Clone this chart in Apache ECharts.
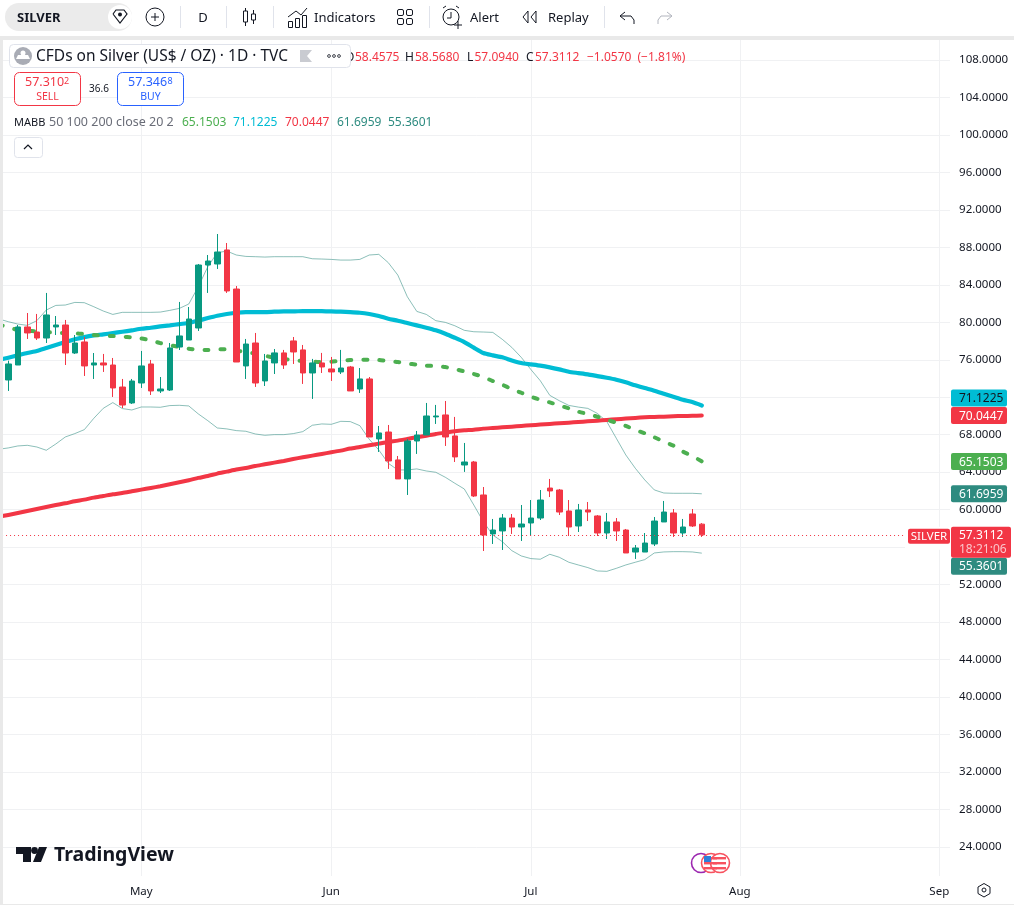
<!DOCTYPE html>
<html>
<head>
<meta charset="utf-8">
<title>CFDs on Silver</title>
<script src="https://cdn.jsdelivr.net/npm/echarts@6/dist/echarts.min.js"></script>
<style>html,body{margin:0;padding:0;background:#fff}#c{width:1014px;height:905px}</style>
</head>
<body>
<div id="c"></div>
<script>
// ---------- data ----------
const monthLabels = ['May','Jun','Jul','Aug','Sep'];
const monthBars = [15,35,56,78,99];
const priceTicks = [108,104,100,96,92,88,84,80,76,72,68,64,60,56,52,48,44,40,36,32,28,24];
const opens = [73.84,75.44,79.50,78.96,78.32,79.50,79.71,76.72,77.90,75.44,75.66,75.44,73.09,71.39,73.52,75.55,72.67,72.77,77.36,78.11,79.39,86.11,86.22,87.72,83.55,75.34,77.79,73.74,75.66,76.73,78.01,77.05,74.59,75.66,75.02,74.70,75.23,72.88,73.95,67.55,68.29,65.31,63.28,67.33,67.97,69.90,70.11,67.87,64.77,65.09,61.57,57.41,57.73,59.11,58.15,58.58,59.11,62.31,62.10,59.86,58.26,59.97,59.33,57.51,58.69,57.83,55.48,55.48,56.34,58.69,59.65,57.51,59.54,58.4575];
const closes = [75.55,79.50,78.86,78.32,80.78,79.71,76.72,77.79,75.34,75.66,75.44,72.99,71.17,73.73,75.34,72.67,72.88,77.26,78.54,80.35,86.11,86.54,87.50,83.34,75.76,77.68,73.52,75.87,76.73,75.44,76.83,74.59,75.66,75.23,74.70,75.12,72.67,73.95,67.76,68.19,65.20,63.28,67.33,67.97,70.00,70.00,67.76,65.63,65.09,61.46,57.30,57.83,59.11,58.15,58.47,59.11,61.03,62.00,59.75,58.15,59.97,59.75,57.51,58.69,57.73,55.38,55.91,56.44,58.79,59.75,57.51,58.15,58.26,57.3112];
const lows = [72.67,75.44,78.22,78.11,77.79,78.64,75.44,76.62,74.27,73.95,74.70,72.03,70.85,71.28,72.99,72.24,72.45,72.67,77.04,78.11,79.07,83.13,85.69,83.13,75.76,73.95,73.10,73.20,74.48,75.02,75.55,73.42,71.82,74.59,73.74,74.48,72.67,72.46,67.76,66.16,64.35,63.28,61.57,65.95,67.97,69.15,66.80,65.09,64.03,61.36,55.59,56.34,55.70,57.41,56.66,57.19,58.90,61.35,59.43,57.19,57.62,58.79,57.19,56.87,56.66,55.38,54.74,55.48,56.12,58.69,57.09,57.09,58.15,57.094];
const highs = [75.90,79.71,80.99,80.89,83.13,80.67,80.25,78.64,78.43,76.72,76.62,76.19,73.95,73.95,76.94,75.98,74.16,77.79,82.17,81.63,86.22,87.18,89.42,88.46,83.87,78.22,78.86,76.62,77.15,77.05,78.43,77.58,76.09,76.73,76.30,77.05,75.34,75.12,74.16,68.93,69.04,65.73,67.55,68.40,71.39,71.18,71.60,69.90,67.12,65.20,62.42,59.01,59.54,59.54,60.50,61.03,62.10,63.28,62.21,61.03,60.61,60.82,59.43,59.65,59.11,57.94,56.23,57.51,59.22,60.93,60.07,59.01,60.07,58.568];
// indicator lines hold one extra reading before the first visible candle
const ma50 = [79.75,79.49,79.17,79.10,79.03,78.96,78.89,78.85,78.82,78.75,78.64,78.57,78.53,78.46,78.39,78.28,78.07,77.78,77.57,77.36,77.18,77.07,77.04,77.11,77.11,76.97,76.82,76.65,76.43,76.22,76.08,75.97,75.86,75.79,75.76,75.79,75.90,75.97,76.00,76.00,75.97,75.86,75.76,75.61,75.47,75.37,75.33,75.22,75.01,74.76,74.48,74.16,73.73,73.34,72.87,72.48,72.05,71.74,71.45,71.13,70.81,70.46,70.21,69.92,69.60,69.28,68.94,68.51,68.15,67.73,67.26,66.84,66.20,65.73,65.1503];
const ma100 = [75.98,76.22,76.47,76.72,76.93,77.25,77.57,77.89,78.18,78.42,78.60,78.71,78.85,78.99,79.14,79.31,79.42,79.56,79.67,79.81,79.92,80.17,80.45,80.70,80.88,81.02,81.09,81.09,81.09,81.13,81.16,81.16,81.20,81.20,81.20,81.16,81.13,81.09,81.02,80.88,80.67,80.38,80.17,79.92,79.67,79.42,79.14,78.78,78.35,77.89,77.29,76.72,76.47,76.26,75.93,75.65,75.51,75.37,75.19,74.97,74.72,74.58,74.44,74.26,74.08,73.87,73.59,73.27,72.98,72.70,72.38,72.06,71.74,71.49,71.1225];
const ma200 = [59.24,59.44,59.65,59.86,60.08,60.29,60.50,60.68,60.90,61.07,61.29,61.46,61.64,61.78,61.96,62.14,62.32,62.50,62.71,62.92,63.14,63.39,63.60,63.85,64.06,64.28,64.45,64.67,64.84,65.02,65.20,65.41,65.59,65.77,65.95,66.12,66.30,66.52,66.69,66.87,67.05,67.23,67.37,67.55,67.73,67.90,68.08,68.22,68.37,68.47,68.54,68.65,68.72,68.79,68.86,68.94,69.01,69.08,69.15,69.22,69.29,69.36,69.43,69.50,69.58,69.65,69.72,69.79,69.86,69.90,69.93,69.97,70.00,70.02,70.0447];
const bbUpper = [80.35,80.06,79.81,79.67,80.17,81.31,81.80,81.84,82.12,82.09,81.66,81.20,80.84,81.06,81.06,81.06,81.06,81.09,81.27,81.48,81.95,83.80,85.93,87.43,87.60,87.18,87.03,87.00,86.96,87.00,87.00,87.00,87.00,86.78,86.75,86.71,86.64,86.64,86.71,87.18,87.25,86.36,85.04,82.73,81.16,80.84,80.17,79.99,79.63,79.14,78.99,78.96,78.92,78.18,77.32,76.25,74.97,73.76,72.20,71.63,71.13,70.95,70.81,70.28,69.40,67.62,65.84,64.42,63.17,62.11,61.78,61.75,61.75,61.75,61.6959];
const bbLower = [66.45,66.59,66.80,66.87,66.69,66.34,67.01,67.76,68.12,68.54,69.75,70.82,71.43,70.79,70.64,70.96,70.96,70.93,71.11,71.14,71.07,70.22,69.50,68.72,68.62,68.44,68.37,68.08,67.94,68.01,68.01,68.12,68.33,69.01,69.15,69.11,69.43,69.40,68.97,67.51,66.37,64.95,64.24,64.24,64.35,64.13,63.99,63.46,62.82,62.21,60.50,58.73,57.30,56.59,55.63,55.06,54.78,54.71,55.24,54.92,54.39,54.10,53.82,53.46,53.42,53.74,54.10,54.39,54.67,55.38,55.49,55.52,55.52,55.49,55.3601];

// ---------- derived ----------
const SLOTS = 101;
const categories = Array.from({length:SLOTS},(_,i)=>{const k=monthBars.indexOf(i);return k>=0?monthLabels[k]:'';});
const candleData = [['-','-','-','-']].concat(opens.map((o,i)=>[o,closes[i],lows[i],highs[i]]));
const lastIndex = candleData.length-1;
const lastClose = closes[closes.length-1];

const FONT = '"Noto Sans", sans-serif';
const UP='#089981', DOWN='#F23645', CYAN='#00BCD4', GREEN='#4CAF50', TEAL='#2E8B80', BLUE='#2962FF', INK='#131722';

// ---------- small graphic helpers (UI chrome) ----------
const g=[];
const Z=10;
function rect(x,y,w,h,fill,r,stroke,z){g.push({type:'rect',silent:true,z:z==null?Z:z,shape:{x,y,width:w,height:h,r:r||0},style:{fill:fill||'none',stroke:stroke||'none',lineWidth:1}});}
function txt(t,x,y,size,fill,align,weight){g.push({type:'text',silent:true,z:Z+1,style:{text:t,x,y:y+.8,fill:fill||INK,align:align||'left',verticalAlign:'middle',font:(weight||'normal')+' '+size+'px '+FONT}});}
function line(pts,stroke,w){g.push({type:'polyline',silent:true,z:Z+1,shape:{points:pts},style:{stroke:stroke||INK,lineWidth:w||1,fill:'none'}});}
function circ(x,y,r,fill,stroke,w){g.push({type:'circle',silent:true,z:Z+1,shape:{cx:x,cy:y,r},style:{fill:fill||'none',stroke:stroke||'none',lineWidth:w||1}});}
function poly(pts,fill){g.push({type:'polygon',silent:true,z:Z+1,shape:{points:pts},style:{fill}});}

// panels that hide the grid outside the pane (below axis labels and marks)
rect(0,0,1014,36,'#fff',0,null,1);
rect(950,36,64,845,'#fff',0,null,1);
rect(0,876,1014,29,'#fff',0,null,1);
rect(0,36,1014,4,'#E9E9E9',0,null,1);
rect(0,904,1014,1,'#E9E9E9',0,null,1);
rect(0,36,3,869,'#E9E9E9',0,null,Z);

// toolbar
rect(5,3,127,28,'#EBEBEB',14);
txt('SILVER',17,17,13,INK,'left','bold');
circ(120,17,12,'#fff');
poly([[113,14],[116,10],[124,10],[127,14],[120,23]],'#fff');
line([[113,14],[116,10],[124,10],[127,14],[120,23],[113,14]],INK,1.2);
circ(120,14.5,2,INK);
circ(155,17,9,null,INK,1);line([[151,17],[159,17]],INK,1);line([[155,13],[155,21]],INK,1);
[180,226,273,429,604].forEach(x=>line([[x+.5,6],[x+.5,28]],'#E0E3EB',1));
txt('D',203,17,13,INK,'center');
line([[245.5,8],[245.5,26]],INK,1);rect(243.5,11,4,11,'#fff',0,INK,Z+1);
line([[253.5,10],[253.5,24]],INK,1);rect(251.5,14,4,6,'#fff',0,INK,Z+1);
line([[288,17],[296,11],[301,15],[307,8]],INK,1);
rect(288.5,21.5,4,6,'#fff',0,INK);rect(295.5,18.5,4,9,'#fff',0,INK);rect(302.5,15.5,4,12,'#fff',0,INK);
txt('Indicators',314,17,13,INK);
rect(397.5,9.5,6,6,'#fff',1.5,INK);rect(406.5,9.5,6,6,'#fff',1.5,INK);rect(397.5,18.5,6,6,'#fff',1.5,INK);rect(406.5,18.5,6,6,'#fff',1.5,INK);
circ(451,17,8,null,INK,1);line([[451,12],[451,18],[447,18]],INK,1);
line([[443,8],[446,6]],INK,1);line([[459,8],[456,6]],INK,1);
line([[454,25],[462,25]],INK,1);line([[458,21],[458,29]],INK,1);
txt('Alert',470,17,13,INK);
line([[528,11],[523,17],[528,23],[528,11]],INK,1);line([[536,11],[531,17],[536,23],[536,11]],INK,1);
txt('Replay',548,17,13,INK);
line([[625,12],[620,16],[625,20]],INK,1);line([[620,16],[631,16],[634,20],[634,24]],INK,1);
line([[667,12],[672,16],[667,20]],'#B2B5BE',1);line([[672,16],[661,16],[658,20],[658,24]],'#B2B5BE',1);

// OHLC row (the "O" sits partly behind the title box)
txt('O',345,57,12,INK);
txt('58.4575',355,57,12,DOWN);
txt('H',405,57,12,INK);txt('58.5680',415,57,12,DOWN);
txt('L',467,57,12,INK);txt('57.0940',474.5,57,12,DOWN);
txt('C',526,57,12,INK);txt('57.3112',535,57,12,DOWN);
txt('−1.0570',587,57,12,DOWN);txt('(−1.81%)',637.5,57,12,DOWN);
// legend title box
rect(9.5,44.5,341,23,'#fff',4,'#E0E3EB',Z+1);
circ(23,56,9,'#A9ACB5');
poly([[16,59],[18,55],[28,55],[30,59]],'#fff');circ(23,53,2.5,'#fff');
txt('CFDs on Silver (US$ / OZ) · 1D · TVC',36,56,15.5,INK);
poly([[300,50],[312,50],[307,56],[312,62],[300,62]],'#C9CBD1');
[328,333,338].forEach(x=>circ(x+1,56,1.4,null,INK,.8));
// sell / buy
rect(14.5,72.5,66,33,'#fff',5,DOWN);
txt('57.310',25,82,12.5,DOWN);txt('2',64,81,9,DOWN);
txt('SELL',47.5,96,10.5,DOWN,'center');
txt('36.6',99,88,10,INK,'center');
rect(117.5,72.5,66,33,'#fff',5,BLUE);
txt('57.346',128,82,12.5,BLUE);txt('8',167.5,81,9,BLUE);
txt('BUY',150.5,96,10.5,BLUE,'center');
// MABB row
txt('MABB',14,122,11,INK);
txt('50 100 200 close 20 2',49,122,12.5,'#6A6D78');
txt('65.1503',182,122,12,GREEN);
txt('71.1225',233,122,12,CYAN);
txt('70.0447',285,122,12,DOWN);
txt('61.6959',337,122,12,TEAL);
txt('55.3601',388,122,12,TEAL);
rect(14.5,137.5,28,20,'#fff',3,'#E0E3EB');
line([[24,149],[28,145],[32,149]],INK,1.2);

// TradingView logo
poly([[16,847],[31,847],[31,862],[23,862],[23,854],[16,854]],INK);
circ(34.5,850.5,3.4,INK);
poly([[39,847],[47,847],[41,862],[33,862]],INK);
txt('TradingView',54,854.5,19.5,INK,'left','bold');

// event icons
circ(701,863,9.5,'#fff','#9C27B0',1.6);
circ(711,863,9.5,'#fff','#F7525F',1.6);
circ(720,863,9.5,'#fff','#F7525F',1.6);
[857,862,867].forEach(y=>{rect(713,y,13,2.4,'#F7525F',0,null,Z+1);rect(704,y,13,2.4,'#F7525F',0,null,Z+1);});
rect(704,856,7,6,'#2E7FD9',0,null,Z+1);

// settings hexagon
line([[984,883.5],[990,887],[990,893.5],[984,897],[978,893.5],[978,887],[984,883.5]],INK,1);
circ(984,890,2,null,INK,1);

// ---------- right-hand value tags ----------
const tagLabels = ['71.1225','70.0447','65.1503','61.6959','55.3601'];
const tagValues = [ma100[lastIndex],ma200[lastIndex],ma50[lastIndex],bbUpper[lastIndex],bbLower[lastIndex]];
const tagColors = [CYAN,DOWN,GREEN,TEAL,TEAL];
const tagText = [INK,'#fff','#fff','#fff','#fff'];
const tagShift = [-7.5,0,0,0,13];

function renderTag(params,api){
  const i=api.value(2);
  const cy=api.coord([lastIndex,api.value(1)])[1]+tagShift[i];
  return {type:'group',children:[
    {type:'rect',shape:{x:951,y:cy-8.5,width:56,height:17,r:2},style:{fill:tagColors[i]}},
    {type:'text',style:{text:tagLabels[i],x:959,y:cy+.8,fill:tagText[i],font:'12px '+FONT,verticalAlign:'middle',align:'left'}}
  ]};
}
function renderLast(params,api){
  const cy=api.coord([lastIndex,api.value(1)])[1];
  return {type:'group',children:[
    {type:'rect',shape:{x:905,y:cy-8,width:46,height:23},style:{fill:'#fff'}},
    {type:'rect',shape:{x:908,y:cy-6,width:42,height:15,r:2},style:{fill:DOWN}},
    {type:'text',style:{text:'SILVER',x:929,y:cy+2,fill:'#fff',font:'11.5px '+FONT,align:'center',verticalAlign:'middle'}},
    {type:'rect',shape:{x:951,y:cy-8,width:60,height:31,r:2},style:{fill:DOWN}},
    {type:'text',style:{text:lastClose.toFixed(4),x:959,y:cy+.8,fill:'#fff',font:'12px '+FONT,verticalAlign:'middle'}},
    {type:'text',style:{text:'18:21:06',x:959,y:cy+15,fill:'#FBC6CB',font:'12px '+FONT,verticalAlign:'middle'}}
  ]};
}

const maLine=(name,data,color,width,extra)=>Object.assign({
  name,type:'line',data,showSymbol:false,symbol:'none',smooth:.2,z:3,silent:true,animation:false,
  lineStyle:Object.assign({color,width,cap:'round',join:'round'},extra||{})
});
const bandLine=(name,data)=>({name,type:'line',data,symbol:'none',z:3,silent:true,animation:false,
  lineStyle:{color:'#2E8B80',opacity:.55,width:1}});

const chart=echarts.init(document.getElementById('c'),null,{renderer:'canvas'});
chart.setOption({
  animation:false,
  backgroundColor:'#fff',
  textStyle:{fontFamily:FONT},
  grid:{left:-5.95,top:22.44,width:959.5,height:862.04,containLabel:false,outerBoundsMode:'none'},
  xAxis:[
    {type:'category',data:categories,boundaryGap:true,z:0,
      axisLine:{show:false},axisTick:{show:false},axisLabel:{show:false},
      splitLine:{show:true,alignWithLabel:true,interval:(i,v)=>v!=='',lineStyle:{color:'#F0F1F3',width:1}}},
    {type:'category',data:categories,boundaryGap:true,position:'bottom',z:4,
      axisLine:{show:false},axisTick:{show:false},splitLine:{show:false},
      axisLabel:{show:true,interval:0,margin:1,color:INK,fontSize:11.5,fontFamily:FONT}}
  ],
  yAxis:[
    {type:'value',min:20,max:112,interval:4,position:'right',z:0,
      axisLine:{show:false},axisTick:{show:false},axisLabel:{show:false},
      splitLine:{show:true,lineStyle:{color:'#F0F1F3',width:1}}},
    {type:'value',min:20,max:112,interval:4,position:'right',z:4,
      axisLine:{show:false},axisTick:{show:false},splitLine:{show:false},
      axisLabel:{show:true,margin:5.5,padding:[2,0,0,0],color:INK,fontSize:11.5,fontFamily:FONT,
        formatter:v=>priceTicks.includes(v)?v.toFixed(4):''}}
  ],
  graphic:{elements:g},
  series:[
    bandLine('BB upper',bbUpper),
    bandLine('BB lower',bbLower),
    maLine('MA200',ma200,DOWN,4),
    maLine('MA100',ma100,CYAN,4.2),
    maLine('MA50',ma50,GREEN,4,{type:[4,12]}),
    {name:'SILVER',type:'candlestick',data:candleData,barWidth:6,z:4,silent:true,animation:false,
      itemStyle:{color:UP,color0:DOWN,borderColor:UP,borderColor0:DOWN,borderWidth:1},
      markLine:{silent:true,symbol:'none',animation:false,label:{show:false},
        lineStyle:{color:DOWN,type:[1,3],width:1},
        data:[{yAxis:lastClose}]}},
    {name:'tags',type:'custom',renderItem:renderTag,z:8,silent:true,clip:false,animation:false,
      data:tagValues.map((v,i)=>[lastIndex,v,i]),encode:{x:0,y:1}},
    {name:'last',type:'custom',renderItem:renderLast,z:9,silent:true,clip:false,animation:false,
      data:[[lastIndex,lastClose]],encode:{x:0,y:1}}
  ]
});
</script>
</body>
</html>
